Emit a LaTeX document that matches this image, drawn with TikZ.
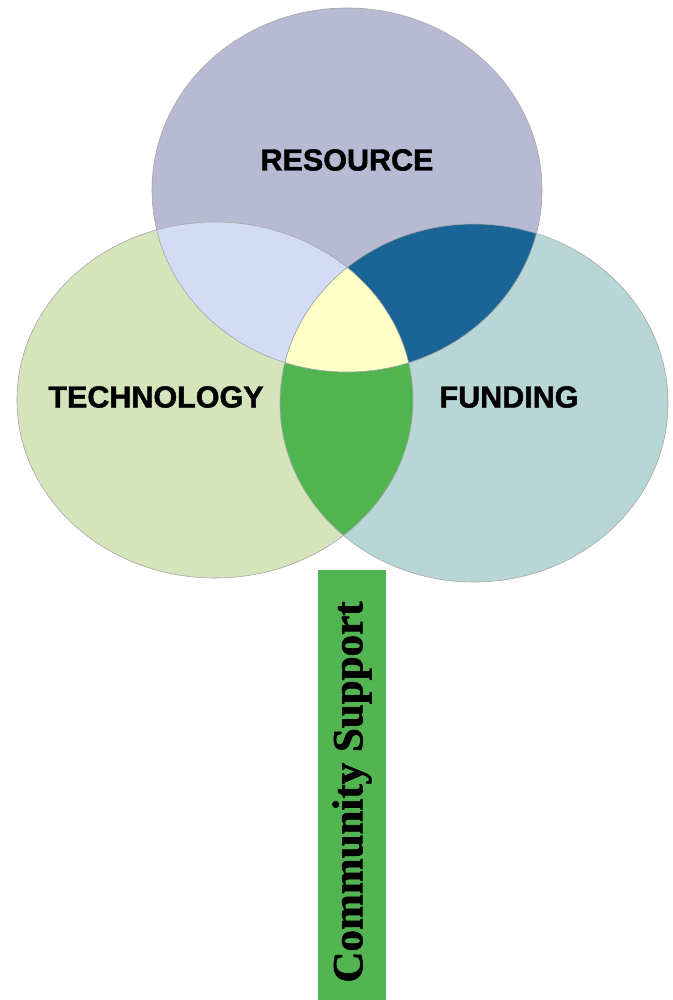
\documentclass[tikz,border=0pt]{standalone}
\usepackage{fontspec}
\setmainfont{Liberation Serif}
\newfontfamily\labfont[FakeBold=1.5]{Liberation Sans Bold}
\newfontfamily\stemfont[FakeBold=1.5]{Liberation Serif Bold}
\begin{document}
\begin{tikzpicture}[x=1pt,y=-1pt,
  lab/.style={font=\labfont\fontsize{30.5}{31}\selectfont, text=black, inner sep=0pt},
  rim/.style={draw=gray!70, line width=0.6pt}]
\definecolor{topcol}{RGB}{184,186,212}
\definecolor{leftcol}{RGB}{214,228,188}
\definecolor{rightcol}{RGB}{185,214,214}
\definecolor{tlcol}{RGB}{210,220,245}
\definecolor{trcol}{RGB}{26,100,150}
\definecolor{lrcol}{RGB}{80,180,80}
\definecolor{allcol}{RGB}{255,255,200}
\definecolor{boxcol}{RGB}{82,181,82}
\useasboundingbox (0,0) rectangle (672,1000);
\fill[white] (0,0) rectangle (672,1000);
\def\topE{(347,190) ellipse [x radius=195pt, y radius=182pt]}
\def\leftE{(215,400) ellipse [x radius=198pt, y radius=178pt]}
\def\rightE{(474,403) ellipse [x radius=194pt, y radius=179pt]}
% base fills
\fill[leftcol] \leftE;
\fill[rightcol] \rightE;
\fill[topcol] \topE;
% pairwise intersections
\begin{scope}\clip \topE; \fill[tlcol] \leftE; \end{scope}
\begin{scope}\clip \topE; \fill[trcol] \rightE; \end{scope}
\begin{scope}\clip \leftE; \fill[lrcol] \rightE; \end{scope}
\begin{scope}\clip \topE; \clip \leftE; \fill[allcol] \rightE; \end{scope}
% outlines
\draw[rim] \topE;
\draw[rim] \leftE;
\draw[rim] \rightE;
% labels
\node[lab] (resource) at (347,160) {RESOURCE};
\node[lab] (technology) at (156,397) {TECHNOLOGY};
\node[lab] (funding) at (509,397) {FUNDING};
% stem
\node[fill=boxcol, minimum width=68pt, minimum height=430pt, inner sep=0pt, draw=none] (stem) at (352,785) {};
\node[rotate=90, font=\stemfont\fontsize{43}{44}\selectfont, inner sep=0pt] (community) at (352,792) {Community Support};
\end{tikzpicture}
\end{document}
